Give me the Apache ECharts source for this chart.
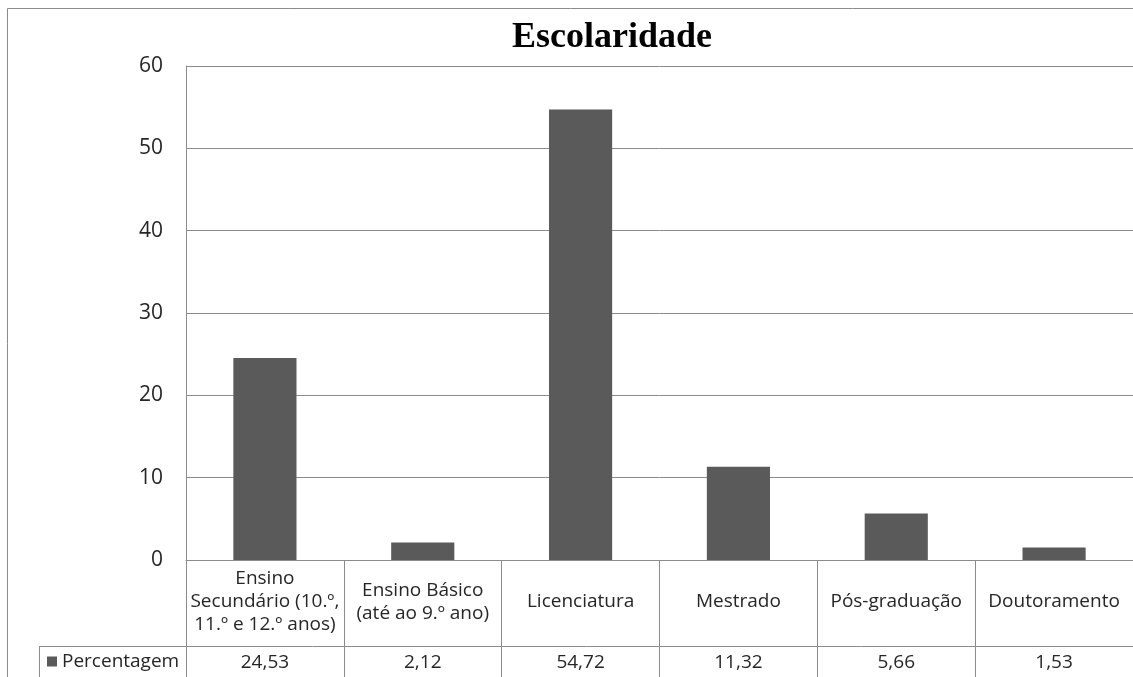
<!DOCTYPE html>
<html>
<head>
<meta charset="utf-8">
<script src="https://cdn.jsdelivr.net/npm/echarts@6/dist/echarts.min.js"></script>
<style>
  html, body { margin: 0; padding: 0; background: #fff; }
  #chart { width: 1133px; height: 677px; }
</style>
</head>
<body>
<div id="chart"></div>
<script>
// Education level categories (line breaks as shown in the table header row)
const categories = [
  'Ensino\nSecundário (10.º,\n11.º e 12.º anos)',
  'Ensino Básico\n(até ao 9.º ano)',
  'Licenciatura',
  'Mestrado',
  'Pós-graduação',
  'Doutoramento'
];
const seriesName = 'Percentagem';
const percentages = [24.53, 2.12, 54.72, 11.32, 5.66, 1.53];
const yMin = 0, yMax = 60, yStep = 10;

const chartTitle = 'Escolaridade';

// Plot-area geometry
const plotLeft = 186, plotTop = 66, plotWidth = 951, plotHeight = 494;
const axisY = plotTop + plotHeight;      // baseline of the bars
const headerRow = 86;                    // height of the category row of the data table
const tableLeft = 39;

const gridColor = '#8c8c8c';
const textColor = '#262626';
const uiFont = '"Open Sans", "DejaVu Sans", sans-serif';

// Values printed in the data table, Portuguese decimal comma
const valueLabels = percentages.map(v => v.toFixed(2).replace('.', ','));

const chart = echarts.init(document.getElementById('chart'), null, { renderer: 'canvas' });

chart.setOption({
  animation: false,
  backgroundColor: '#fff',
  title: {
    text: chartTitle,
    left: 607,
    textAlign: 'center',
    top: 15,
    textStyle: {
      fontFamily: '"Liberation Serif", "Times New Roman", serif',
      fontWeight: 'bold',
      fontSize: 36,
      color: '#000'
    }
  },
  legend: {
    data: [seriesName],
    left: 47,
    top: 652,
    padding: 0,
    icon: 'rect',
    itemWidth: 10,
    itemHeight: 10,
    itemGap: 4,
    textStyle: { fontFamily: uiFont, fontSize: 19, color: textColor }
  },
  grid: {
    left: plotLeft,
    top: plotTop,
    width: plotWidth,
    height: plotHeight,
    containLabel: false
  },
  xAxis: [
    {
      type: 'category',
      data: categories,
      boundaryGap: true,
      axisLine: { show: true, lineStyle: { color: gridColor, width: 1 } },
      axisTick: { show: true, interval: 0, length: 130, lineStyle: { color: gridColor, width: 1 } },
      axisLabel: {
        interval: 0,
        margin: 42,
        verticalAlign: 'middle',
        align: 'center',
        lineHeight: 23,
        fontFamily: uiFont,
        fontSize: 19,
        color: textColor
      },
      splitLine: { show: false }
    },
    {
      type: 'category',
      data: valueLabels,
      position: 'bottom',
      offset: headerRow,
      axisLine: { show: false },
      axisTick: { show: false },
      axisLabel: {
        interval: 0,
        margin: 17,
        verticalAlign: 'middle',
        fontFamily: uiFont,
        fontSize: 19,
        color: textColor
      }
    }
  ],
  yAxis: {
    type: 'value',
    min: yMin,
    max: yMax,
    interval: yStep,
    axisLine: { show: true, lineStyle: { color: gridColor, width: 1 } },
    axisTick: { show: false },
    axisLabel: {
      margin: 23,
      fontFamily: uiFont,
      fontSize: 21,
      color: textColor
    },
    splitLine: { show: true, lineStyle: { color: gridColor, width: 1 } }
  },
  series: [
    {
      name: seriesName,
      type: 'bar',
      xAxisIndex: 0,
      data: percentages,
      barWidth: '40%',
      itemStyle: { color: '#5a5a5a' }
    }
  ],
  graphic: [
    // outer chart frame
    {
      type: 'rect',
      shape: { x: 7.5, y: 8.5, width: 1200, height: 720 },
      style: { fill: 'none', stroke: '#8c8c8c', lineWidth: 1 },
      silent: true
    },
    // data table: separator under the category row and legend-cell border
    {
      type: 'line',
      shape: { x1: tableLeft, y1: axisY + headerRow + 0.5, x2: 1140, y2: axisY + headerRow + 0.5 },
      style: { stroke: gridColor, lineWidth: 1 },
      silent: true
    },
    {
      type: 'line',
      shape: { x1: tableLeft + 0.5, y1: axisY + headerRow, x2: tableLeft + 0.5, y2: 700 },
      style: { stroke: gridColor, lineWidth: 1 },
      silent: true
    }
  ]
});
</script>
</body>
</html>
